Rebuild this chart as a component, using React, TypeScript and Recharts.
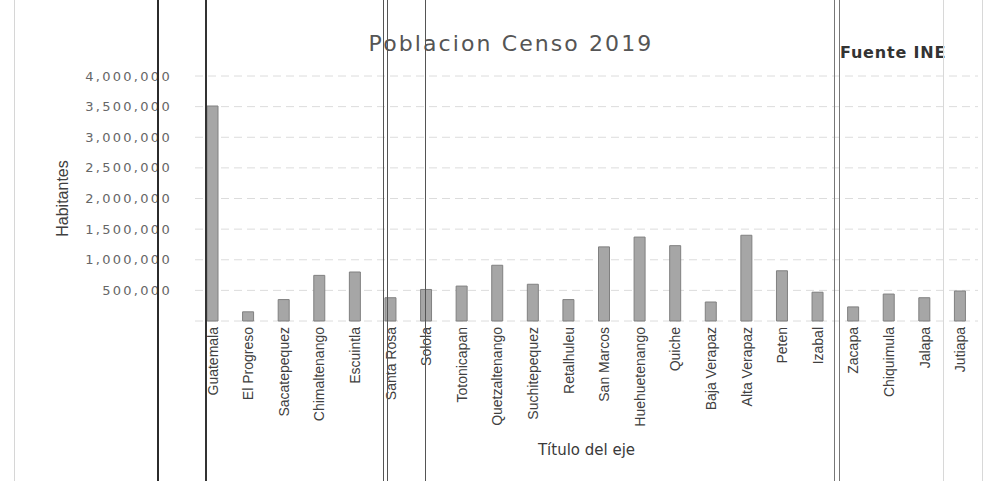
import React from "react";
import { BarChart, Bar, XAxis, YAxis, CartesianGrid, Label } from "recharts";

// Población por departamento
const departamentos = [
  "Guatemala", "El Progreso", "Sacatepequez", "Chimaltenango", "Escuintla",
  "Santa Rosa", "Solola", "Totonicapan", "Quetzaltenango", "Suchitepequez",
  "Retalhuleu", "San Marcos", "Huehuetenango", "Quiche", "Baja Verapaz",
  "Alta Verapaz", "Peten", "Izabal", "Zacapa", "Chiquimula", "Jalapa", "Jutiapa",
];
const habitantes = [
  3510000, 150000, 350000, 745000, 800000,
  380000, 515000, 570000, 910000, 600000,
  350000, 1210000, 1370000, 1230000, 310000,
  1400000, 820000, 470000, 230000, 440000, 380000, 490000,
];
const ticksY = [500000, 1000000, 1500000, 2000000, 2500000, 3000000, 3500000, 4000000];

const datos = departamentos.map((d, i) => ({ departamento: d, habitantes: habitantes[i] }));

// líneas de la hoja impresa detrás del gráfico
const lineasHoja = [
  { x: 14, w: 1, c: "#d6d6d6" },
  { x: 157, w: 2, c: "#2b2b2b" },
  { x: 205, w: 1.5, c: "#333" },
  { x: 383, w: 1, c: "#555" },
  { x: 387, w: 1, c: "#555" },
  { x: 425, w: 1, c: "#555" },
  { x: 834, w: 1, c: "#777" },
  { x: 839, w: 1, c: "#777" },
  { x: 943, w: 1, c: "#d8d8d8" },
  { x: 982, w: 1, c: "#d8d8d8" },
];

const fuenteEstrecha = "'Liberation Sans', Arial, sans-serif";

const TickDepto = (props: any) => {
  const { x, y, payload } = props;
  return (
    <text
      x={x}
      y={y}
      transform={`rotate(-90 ${x} ${y})`}
      textAnchor="end"
      dy="0.35em"
      fill="#404040"
      fontSize={14}
      fontFamily={fuenteEstrecha}
    >
      {payload.value}
    </text>
  );
};

export default function App() {
  return (
    <div style={{ position: "absolute", left: 0, top: 0, width: 989, height: 481, background: "#fff", overflow: "hidden" }}>
      <BarChart width={989} height={481} data={datos} margin={{ top: 76, right: 11, left: 0, bottom: 0 }}>
        <CartesianGrid vertical={false} stroke="#dcdcdc" strokeDasharray="8 5" />
        <XAxis
          dataKey="departamento"
          interval={0}
          height={160}
          tickLine={false}
          axisLine={false}
          tickSize={0}
          tickMargin={6}
          tick={<TickDepto />}
        >
          <Label
            value="Título del eje"
            position="insideBottom"
            offset={26}
            fill="#3a3a3a"
            fontSize={15}
            fontFamily="'DejaVu Sans', sans-serif"
          />
        </XAxis>
        <YAxis
          width={195}
          domain={[0, 4000000]}
          ticks={ticksY}
          tickLine={false}
          axisLine={false}
          tickSize={0}
          tickMargin={23}
          tickFormatter={(v) => Number(v).toLocaleString("en-US")}
          tick={{ fill: "#666", fontSize: 13, fontFamily: "'DejaVu Sans', sans-serif", letterSpacing: 2.3 }}
        >
          <Label
            content={({ viewBox }: any) => {
              const cx = viewBox.x + 62;
              const cy = viewBox.y + viewBox.height / 2;
              return (
                <text
                  x={cx}
                  y={cy}
                  transform={`rotate(-90 ${cx} ${cy})`}
                  textAnchor="middle"
                  dy="0.35em"
                  fill="#404040"
                  fontSize={16}
                  fontFamily={fuenteEstrecha}
                >
                  Habitantes
                </text>
              );
            }}
          />
        </YAxis>
        <Bar dataKey="habitantes" barSize={11} fill="#a6a6a6" stroke="#808080" strokeWidth={1} isAnimationActive={false} />
      </BarChart>

      <div
        style={{
          position: "absolute", left: 0, width: 1022, top: 31, textAlign: "center",
          fontFamily: "'DejaVu Sans', sans-serif", fontSize: 22, color: "#555", letterSpacing: 2.1,
        }}
      >
        Poblacion Censo 2019
      </div>
      <div
        style={{
          position: "absolute", left: 840, top: 43,
          fontFamily: "'DejaVu Sans', sans-serif", fontSize: 16, fontWeight: "bold", color: "#333", letterSpacing: 0.8,
        }}
      >
        Fuente INE
      </div>

      {lineasHoja.map((l, i) => (
        <div key={i} style={{ position: "absolute", left: l.x, top: 0, width: l.w, height: 481, background: l.c }} />
      ))}
    </div>
  );
}
